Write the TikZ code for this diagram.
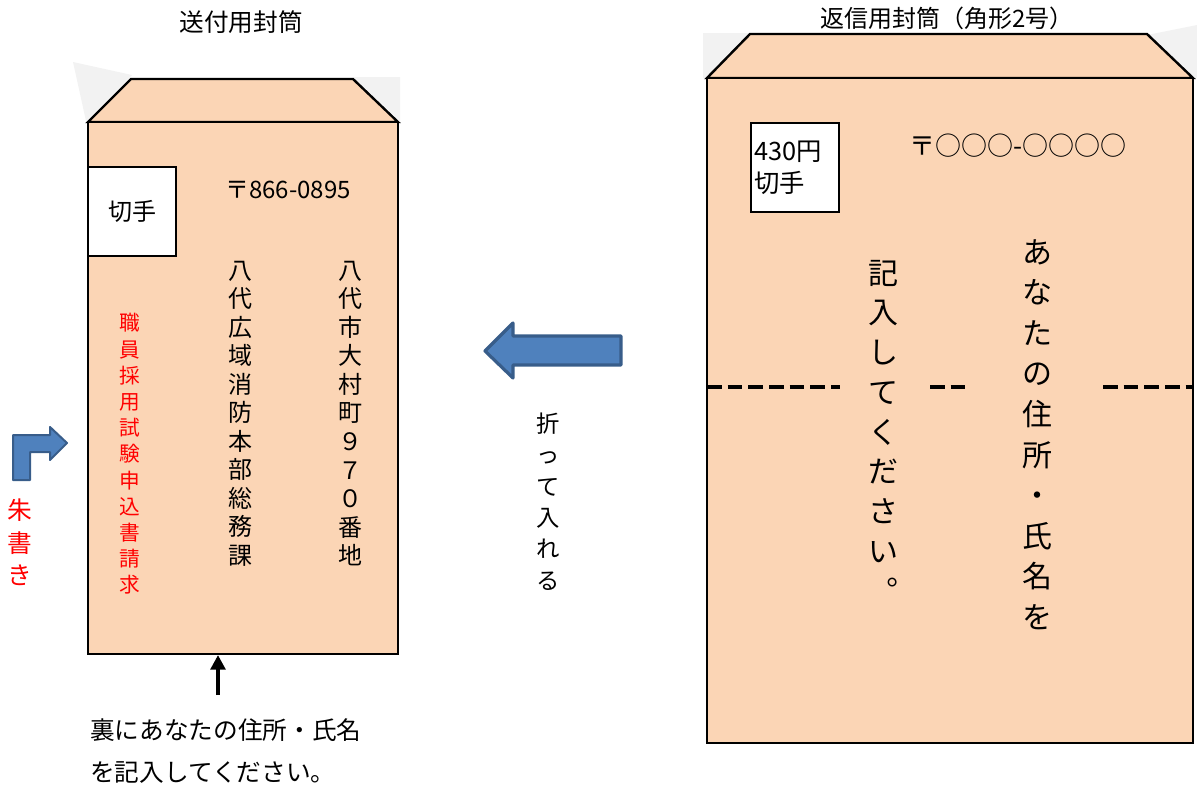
\documentclass[tikz,border=0pt]{standalone}
\usepackage{fontspec}
\setmainfont{Noto Sans CJK JP}
\usetikzlibrary{arrows.meta}
\definecolor{kraft}{HTML}{FBD5B5}
\definecolor{flapgray}{HTML}{F2F2F2}
\definecolor{blfill}{HTML}{4F81BD}
\definecolor{bldraw}{HTML}{385D8A}
\begin{document}
\begin{tikzpicture}[x=0.75pt, y=-0.75pt,
        env/.style = {draw, fill=kraft, line width=1.8pt},
        stamp/.style = {draw, fill=white, line width=1.6pt, minimum width=66pt, minimum height=66.75pt},
        blockarrow/.style = {draw=bldraw, fill=blfill, line join=round},
        tate/.style = {align=center, inner sep=0pt},
        fold/.style = {line width=2.4pt, dash pattern=on 11pt off 4.5pt}]
    \useasboundingbox (0,0) rectangle (1197,789);
    % titles
    \node[font=\fontsize{18.5}{18.5}\selectfont] (sendtitle) at (241,22) {送付用封筒};
    \node[font=\fontsize{18}{18}\selectfont] (replytitle) at (947,18) {返信用封筒（角形2号）};
    % sending envelope
    \fill[flapgray] (73,62) -- (132,75) -- (86,121) -- cycle;
    \fill[flapgray] (353,77) -- (400,77) -- (400,121) -- cycle;
    \draw[env] (88,122) -- (131,79) -- (353,79) -- (398,122) -- cycle;
    \draw[env] (88,122) rectangle (398,654);
    \node[stamp, font=\fontsize{18}{18}\selectfont] (stampL) at (132,211.5) {切手};
    \node[font=\fontsize{18}{18}\selectfont] (zipL) at (288,190) {〒866-0895};
    \node[tate, font=\fontsize{18}{21.4}\selectfont] (dept) at (240,413.5) {八\\代\\広\\域\\消\\防\\本\\部\\総\\務\\課};
    \node[tate, font=\fontsize{18}{21.4}\selectfont] (addr) at (350,413.5) {八\\代\\市\\大\\村\\町\\９\\７\\０\\番\\地};
    \node[tate, text=red, font=\fontsize{15.5}{19.65}\selectfont] (request) at (130,454) {職\\員\\採\\用\\試\\験\\申\\込\\書\\請\\求};
    % red-ink note
    \draw[blockarrow, line width=1.5pt] (13,480) -- (13,435) -- (50,435) -- (50,427) -- (67,443)
        -- (50,460) -- (50,452) -- (30,452) -- (30,480) -- cycle;
    \node[tate, text=red, font=\fontsize{18.5}{24.4}\selectfont] (shugaki) at (20,542.5) {朱\\書\\き};
    % back side note
    \coordinate (upfoot) at (218,695);
    \coordinate (uptip) at (218,655);
    \draw[line width=3.5pt, -{Triangle[length=11pt, width=11pt]}] (upfoot) -- (uptip);
    \node[align=left, anchor=west, inner sep=0pt, font=\fontsize{18.5}{31.5}\selectfont] (backnote) at (90,751)
        {裏にあなたの住所・氏名\\を記入してください。};
    % fold and insert
    \draw[blockarrow, line width=2.4pt] (485,351) -- (513,323) -- (513,336) -- (621,336) -- (621,365)
        -- (513,365) -- (513,378) -- cycle;
    \node[tate, font=\fontsize{17.5}{23.55}\selectfont] (insert) at (548,501.5) {折\\っ\\て\\入\\れ\\る};
    % return envelope
    \fill[flapgray] (703,33) -- (750,33) -- (707,78) -- (703,78) -- cycle;
    \fill[flapgray] (1147,35) -- (1197,25) -- (1197,78) -- (1193,78) -- cycle;
    \draw[env] (707,78) -- (750,34) -- (1147,34) -- (1193,78) -- cycle;
    \draw[env] (707,78) rectangle (1193,743);
    \node[stamp] (stampR) at (795,167.5) {};
    \node[align=left, anchor=west, inner sep=3pt, font=\fontsize{19}{24}\selectfont] (fee) at (stampR.west) {430円\\切手};
    \node[font=\fontsize{19.5}{19.5}\selectfont] (zipR) at (1018,146) {〒○○○-○○○○};
    \draw[fold] (707,387) -- (840,387);
    \draw[fold] (930,387) -- (968,387);
    \draw[fold] (1103,387) -- (1193,387);
    \node[tate, font=\fontsize{22.5}{30.4}\selectfont] (yourname) at (1037,434.5) {あ\\な\\た\\の\\住\\所\\・\\氏\\名\\を};
    \node[tate, font=\fontsize{22.5}{29.8}\selectfont] (fillin) at (883,431) {記\\入\\し\\て\\く\\だ\\さ\\い\\︒};
\end{tikzpicture}
\end{document}
